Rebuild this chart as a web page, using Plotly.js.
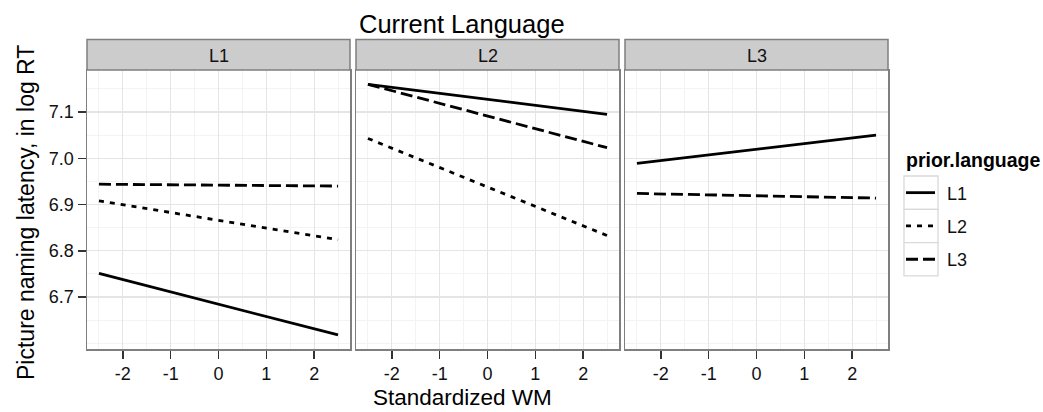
<!DOCTYPE html>
<html>
<head>
<meta charset="utf-8">
<script src="https://cdn.plot.ly/plotly-3.0.1.min.js"></script>
<style>
html,body{margin:0;padding:0;background:#fff;}
#chart{width:1043px;height:412px;}
</style>
</head>
<body>
<div id="chart"></div>
<script>
// ---------------- DATA ----------------
const panelNames = ['L1', 'L2', 'L3'];          // Current Language facets
const priorLevels = ['L1', 'L2', 'L3'];         // prior.language levels
const wm = [-2.5, 2.5];                         // Standardized WM
// predicted log RT, per current language panel and prior language
const cur1_prior1 = [6.751, 6.618];
const cur1_prior2 = [6.908, 6.824];
const cur1_prior3 = [6.944, 6.940];
const cur2_prior1 = [7.160, 7.095];
const cur2_prior2 = [7.043, 6.833];
const cur2_prior3 = [7.160, 7.023];
const cur3_prior1 = [6.989, 7.050];
const cur3_prior3 = [6.924, 6.914];
const xTicks = [-2, -1, 0, 1, 2];
const yTicks = [6.7, 6.8, 6.9, 7.0, 7.1];

const seriesByPanel = [
  {L1: cur1_prior1, L2: cur1_prior2, L3: cur1_prior3},
  {L1: cur2_prior1, L2: cur2_prior2, L3: cur2_prior3},
  {L1: cur3_prior1, L3: cur3_prior3}
];

// ---------------- STYLE ----------------
const W = 1043, H = 412;
const FONT = 'Liberation Sans, Arial, sans-serif';
const dashMap = {L1: 'solid', L2: '5px,6px', L3: '12px,5px'};
const panelPx = [[87, 350], [356, 619], [625, 888]];
const plotTop = 70, plotBottom = 349.3, stripTop = 39.5;
const px2x = p => p / W;
const px2y = p => (H - p) / H;
const yDomain = [px2y(plotBottom), px2y(plotTop)];
const borderColor = '#7f7f7f';

const traces = [];
seriesByPanel.forEach((ser, i) => {
  priorLevels.forEach(lv => {
    if (!ser[lv]) return;
    traces.push({
      type: 'scatter', mode: 'lines',
      x: wm, y: ser[lv],
      xaxis: i === 0 ? 'x' : 'x' + (i + 1),
      yaxis: i === 0 ? 'y' : 'y' + (i + 1),
      line: {color: '#000', width: 2.8, dash: dashMap[lv]},
      name: lv, showlegend: false, hoverinfo: 'skip'
    });
  });
});

const layout = {
  width: W, height: H,
  margin: {l: 0, r: 0, t: 0, b: 0},
  paper_bgcolor: '#fff', plot_bgcolor: '#fff',
  showlegend: false,
  font: {family: FONT, color: '#1a1a1a'},
  shapes: [], annotations: []
};

panelPx.forEach((p, i) => {
  const xn = i === 0 ? 'xaxis' : 'xaxis' + (i + 1);
  const yn = i === 0 ? 'yaxis' : 'yaxis' + (i + 1);
  const xa = i === 0 ? 'x' : 'x' + (i + 1);
  const ya = i === 0 ? 'y' : 'y' + (i + 1);
  layout[xn] = {
    domain: [px2x(p[0]), px2x(p[1])],
    anchor: ya,
    range: [-2.75, 2.75],
    tickmode: 'array', tickvals: xTicks, ticktext: xTicks.map(String),
    ticks: 'outside', ticklen: 8, tickwidth: 1.4, tickcolor: '#333',
    tickfont: {family: FONT, size: 18, color: '#111'},
    showgrid: true, gridcolor: '#e5e5e5', gridwidth: 1.2,
    minor: {dtick: 0.5, tick0: -2.5, showgrid: true, gridcolor: '#f3f3f3', gridwidth: 1, ticks: ''},
    zeroline: false,
    showline: true, linecolor: borderColor, linewidth: 1.5, mirror: true,
    fixedrange: true
  };
  layout[yn] = {
    domain: yDomain,
    anchor: xa,
    range: [6.587, 7.191],
    tickmode: 'array', tickvals: yTicks, ticktext: yTicks.map(v => v.toFixed(1)),
    ticks: i === 0 ? 'outside' : '', ticklen: 8, tickwidth: 1.4, tickcolor: '#333',
    showticklabels: i === 0,
    tickfont: {family: FONT, size: 18, color: '#111'},
    showgrid: true, gridcolor: '#e5e5e5', gridwidth: 1.2,
    minor: {dtick: 0.05, tick0: 6.6, showgrid: true, gridcolor: '#f3f3f3', gridwidth: 1, ticks: ''},
    zeroline: false,
    showline: true, linecolor: borderColor, linewidth: 1.5, mirror: true,
    fixedrange: true
  };
  // strip
  layout.shapes.push({
    type: 'rect', xref: 'paper', yref: 'paper',
    x0: px2x(p[0]), x1: px2x(p[1]), y0: px2y(plotTop), y1: px2y(stripTop),
    fillcolor: '#cccccc', line: {color: borderColor, width: 1.5}
  });
  layout.annotations.push({
    xref: 'paper', yref: 'paper', x: px2x((p[0] + p[1]) / 2), y: px2y(55.5),
    text: panelNames[i], showarrow: false, xanchor: 'center', yanchor: 'middle',
    font: {family: FONT, size: 18, color: '#111'}
  });
});

// titles
layout.annotations.push({
  xref: 'paper', yref: 'paper', x: px2x(462), y: px2y(24),
  text: 'Current Language', showarrow: false, xanchor: 'center', yanchor: 'middle',
  font: {family: FONT, size: 25.5, color: '#000'}
});
layout.annotations.push({
  xref: 'paper', yref: 'paper', x: px2x(462), y: px2y(397),
  text: 'Standardized WM', showarrow: false, xanchor: 'center', yanchor: 'middle',
  font: {family: FONT, size: 22.5, color: '#000'}
});
layout.annotations.push({
  xref: 'paper', yref: 'paper', x: px2x(26), y: px2y(213),
  text: 'Picture naming latency, in log RT', showarrow: false, textangle: -90,
  xanchor: 'center', yanchor: 'middle',
  font: {family: FONT, size: 23, color: '#000'}
});

// legend (manual, ggplot style)
layout.annotations.push({
  xref: 'paper', yref: 'paper', x: px2x(904), y: px2y(160),
  text: '<b>prior.language</b>', showarrow: false, xanchor: 'left', yanchor: 'middle',
  font: {family: FONT, size: 19.5, color: '#000'}
});
const keyTop = 176, keyH = 33.3, keyX0 = 904, keyX1 = 938;
priorLevels.forEach((lv, k) => {
  const y0 = keyTop + k * keyH, y1 = y0 + keyH, yc = (y0 + y1) / 2;
  layout.shapes.push({
    type: 'rect', xref: 'paper', yref: 'paper',
    x0: px2x(keyX0), x1: px2x(keyX1), y0: px2y(y1), y1: px2y(y0),
    fillcolor: '#fff', line: {color: '#d9d9d9', width: 1.3}
  });
  layout.shapes.push({
    type: 'line', xref: 'paper', yref: 'paper',
    x0: px2x(keyX0 + 2), x1: px2x(keyX1 - 3), y0: px2y(yc), y1: px2y(yc),
    line: {color: '#000', width: 2.8, dash: dashMap[lv]}
  });
  layout.annotations.push({
    xref: 'paper', yref: 'paper', x: px2x(945), y: px2y(yc + 1),
    text: lv, showarrow: false, xanchor: 'left', yanchor: 'middle',
    font: {family: FONT, size: 18, color: '#111'}
  });
});

Plotly.newPlot('chart', traces, layout, {staticPlot: true, displayModeBar: false});
</script>
</body>
</html>
